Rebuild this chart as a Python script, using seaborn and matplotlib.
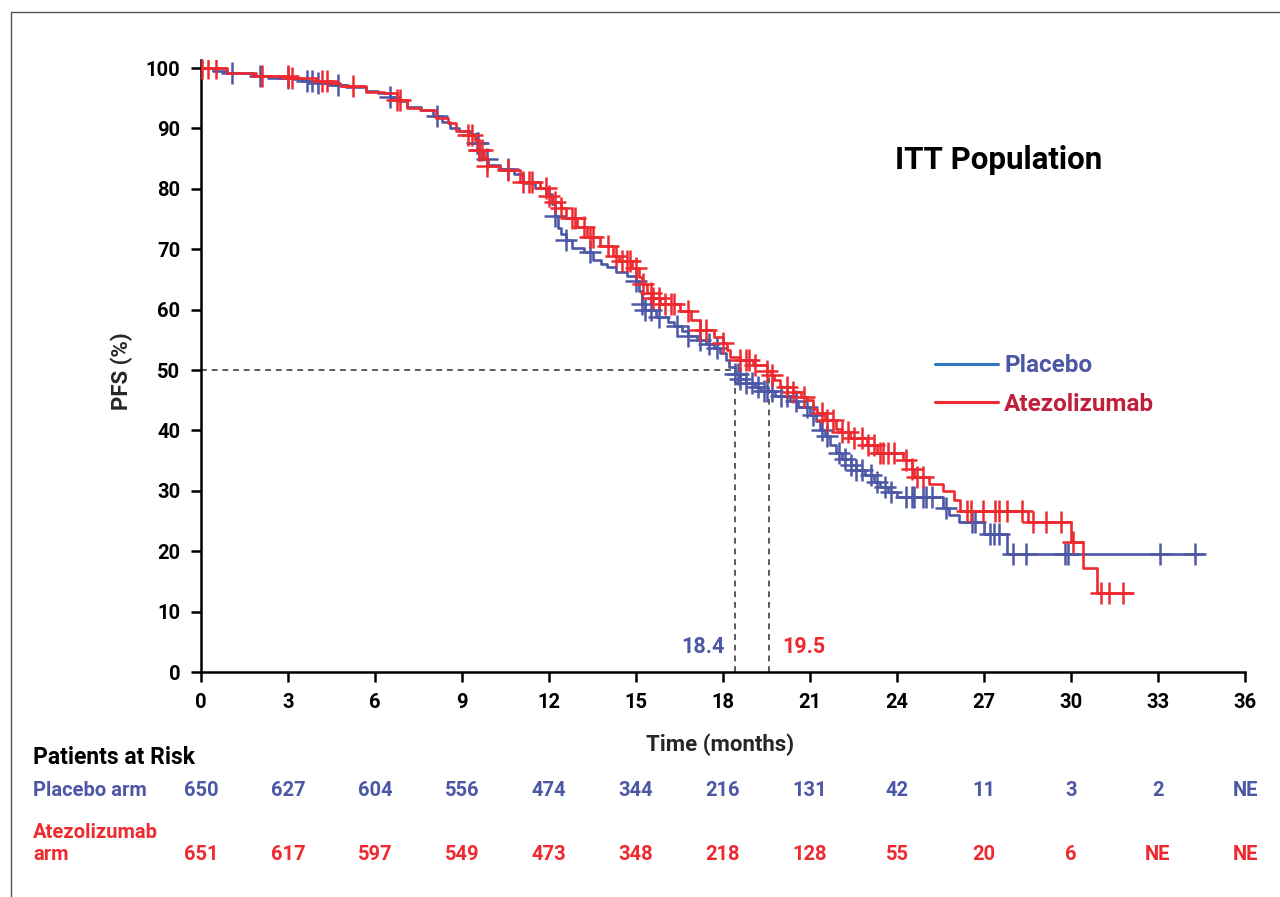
import numpy as np
import pandas as pd
import matplotlib
matplotlib.use("Agg")
import matplotlib.pyplot as plt
import matplotlib.transforms as mtransforms
from matplotlib.lines import Line2D
import seaborn as sns

# ---------------- data ----------------
placebo_t = [0, 0.4, 0.9, 1.8, 2.3, 3.2, 3.6, 4.0, 4.5, 5.0, 5.7, 6.1, 6.5, 6.8, 7.1, 7.6, 8.0, 8.3, 8.6, 8.9,
             9.3, 9.5, 9.6, 9.7, 9.9, 10.3, 10.8, 11.1, 11.5, 11.9, 12.1, 12.2, 12.3, 12.4, 12.6, 12.8, 13.2,
             13.5, 13.8, 14.0, 14.3, 14.7, 15.0, 15.1, 15.2, 15.3, 15.7, 16.1, 16.3, 16.6, 16.8, 17.1, 17.4,
             17.7, 17.9, 18.1, 18.2, 18.4, 18.6, 18.8, 19.1, 19.3, 19.8, 20.3, 20.6, 21.0, 21.2, 21.35, 21.5,
             21.7, 21.9, 22.1, 22.4, 22.6, 22.9, 23.2, 23.4, 23.7, 24.0, 25.6, 25.8, 26.15, 27.0, 27.8, 34.55]
placebo_s = [100, 99.5, 99.2, 98.6, 98.3, 98.1, 97.9, 97.5, 97.2, 96.9, 96.2, 95.8, 95.2, 94.5, 93.5, 93.0,
             92.0, 91.0, 90.0, 89.5, 89.0, 87.5, 86.5, 85.0, 84.0, 83.2, 82.5, 81.0, 80.2, 79.2, 77.5, 75.5,
             73.5, 72.5, 71.5, 70.2, 69.5, 68.2, 67.6, 67.0, 66.3, 65.6, 64.8, 63.0, 61.0, 59.9, 58.8, 58.0,
             57.3, 56.5, 55.7, 55.0, 54.3, 53.6, 52.8, 51.7, 50.5, 49.3, 48.5, 47.8, 47.2, 46.6, 45.7, 44.8,
             43.8, 42.5, 41.5, 40.0, 39.0, 37.5, 36.2, 35.2, 34.2, 33.4, 32.6, 31.5, 30.6, 29.8, 28.9, 27.2,
             26.0, 24.8, 22.8, 19.5, 19.5]

atezo_t = [0, 0.9, 1.9, 3.05, 4.0, 4.45, 4.8, 5.7, 6.3, 6.75, 7.1, 7.55, 8.1, 8.5, 8.8, 9.2, 9.45, 9.55,
           9.75, 9.85, 10.3, 11.0, 11.7, 12.0, 12.1, 12.4, 12.6, 12.95, 13.3, 13.76, 14.2, 14.4, 14.85, 15.1,
           15.2, 15.37, 15.55, 15.83, 16.5, 16.9, 17.2, 17.7, 18.0, 18.15, 18.25, 18.6, 19.05, 19.5, 19.65,
           19.75, 19.97, 20.4, 20.7, 20.9, 21.1, 21.25, 21.5, 21.9, 22.1, 22.38, 22.95, 23.3, 24.2, 24.5,
           24.6, 25.1, 25.6, 25.95, 26.17, 28.5, 30.0, 30.4, 30.9, 32.1]
atezo_s = [100, 99.2, 98.6, 98.3, 97.8, 97.5, 97.0, 96.1, 95.8, 94.7, 93.3, 93.0, 91.7, 90.9, 89.5, 88.9,
           88.0, 86.5, 85.0, 83.8, 83.1, 81.2, 80.1, 78.8, 77.8, 76.8, 75.2, 73.7, 72.1, 70.6, 68.8, 68.0,
           66.9, 65.4, 64.2, 62.7, 62.0, 61.0, 59.7, 58.3, 56.6, 55.5, 54.4, 53.3, 52.2, 51.7, 50.8, 49.9,
           49.2, 48.3, 47.2, 46.4, 45.5, 45.0, 43.6, 42.8, 41.7, 40.3, 39.8, 38.7, 37.6, 36.2, 35.1, 33.6,
           32.3, 31.2, 29.9, 28.5, 26.7, 24.9, 21.6, 17.3, 13.0, 13.0]

placebo_cens = [1.06, 2.03, 3.0, 3.64, 3.82, 4.05, 4.74, 6.52, 8.13, 9.5, 9.55, 9.6, 9.85, 10.6, 12.2, 12.6,
                13.4, 15.0, 15.2, 15.3, 15.5, 15.8, 16.4, 16.8, 17.2, 17.5, 17.8, 18.4, 18.5, 18.6, 18.8,
                19.0, 19.2, 19.4, 19.5, 19.7, 20.0, 20.2, 20.5, 20.9, 21.1, 21.4, 21.6, 22.0, 22.2, 22.4,
                22.6, 22.8, 23.1, 23.3, 23.6, 23.8, 24.3, 24.5, 24.6, 24.9, 25.0, 25.2, 25.7, 26.6, 26.7,
                27.2, 27.35, 27.5, 28.0, 28.45, 29.8, 29.9, 33.07, 34.28]
atezo_cens = [0.02, 0.25, 0.52, 2.09, 3.0, 3.13, 4.16, 4.33, 5.25, 6.75, 6.87, 9.2, 9.33, 9.6, 9.7, 9.85,
              10.6, 11.1, 11.3, 11.4, 11.9, 12.0, 12.2, 12.4, 12.8, 12.9, 13.2, 13.4, 13.5, 14.05, 14.3,
              14.5, 14.7, 14.8, 15.0, 15.25, 15.5, 15.6, 15.8, 16.0, 16.2, 16.3, 16.8, 17.2, 17.4, 18.0,
              18.6, 18.8, 18.9, 19.1, 19.5, 19.7, 20.2, 20.4, 20.8, 21.4, 21.6, 21.8, 22.1, 22.3, 22.5,
              22.8, 23.0, 23.2, 23.4, 23.5, 23.7, 23.9, 24.3, 24.5, 24.7, 24.9, 26.4, 26.54, 26.95, 27.38,
              27.52, 27.78, 28.3, 28.7, 29.14, 29.65, 30.07, 31.02, 31.3, 31.8]

median_pos = [18.4, 19.6]
median_labels = ["18.4", "19.5"]

risk_times = [0, 3, 6, 9, 12, 15, 18, 21, 24, 27, 30, 33, 36]
placebo_risk = ["650", "627", "604", "556", "474", "344", "216", "131", "42", "11", "3", "2", "NE"]
atezo_risk = ["651", "617", "597", "549", "473", "348", "218", "128", "55", "20", "6", "NE", "NE"]

xticks = list(range(0, 37, 3))
yticks = list(range(0, 101, 10))

# ---------------- style ----------------
sns.set_style("ticks")
plt.rcParams["font.family"] = ["Roboto", "DejaVu Sans"]

BLUE = "#4c58a6"
RED = "#ee2a30"
LEG_BLUE = "#2f78bf"
LEG_RED_TXT = "#c01f3a"
DASH = "#5a5a5a"

W, H = 1280, 897
fig = plt.figure(figsize=(W / 100, H / 100), dpi=100)
ax_l, ax_r, ax_b, ax_t = 201, 1245, 672, 60
ax = fig.add_axes([ax_l / W, 1 - ax_b / H, (ax_r - ax_l) / W, (ax_b - ax_t) / H])

def step_value(ts, ss, c):
    idx = np.searchsorted(np.asarray(ts), np.asarray(c), side="right") - 1
    return np.asarray(ss)[idx]

df_p = pd.DataFrame({"t": placebo_t, "s": placebo_s})
df_a = pd.DataFrame({"t": atezo_t, "s": atezo_s})
cp = pd.DataFrame({"t": placebo_cens, "s": step_value(placebo_t, placebo_s, placebo_cens)})
ca = pd.DataFrame({"t": atezo_cens, "s": step_value(atezo_t, atezo_s, atezo_cens)})

# dashed median guides
for m in median_pos:
    ax.plot([m, m], [0, 50], color=DASH, lw=1.4, ls=(0, (3, 2.5)), zorder=1)
ax.plot([0, median_pos[0]], [50, 50], color=DASH, lw=1.4, ls=(0, (3, 2.5)), zorder=1)

sns.lineplot(data=df_p, x="t", y="s", ax=ax, color=BLUE, lw=1.9, drawstyle="steps-post",
             estimator=None, sort=False, zorder=3)
sns.scatterplot(data=cp, x="t", y="s", ax=ax, marker="+", s=270, color=BLUE, linewidth=1.8, zorder=3)
sns.lineplot(data=df_a, x="t", y="s", ax=ax, color=RED, lw=1.9, drawstyle="steps-post",
             estimator=None, sort=False, zorder=4)
sns.scatterplot(data=ca, x="t", y="s", ax=ax, marker="+", s=270, color=RED, linewidth=1.8, zorder=4)

ax.set_xlim(0, 36)
ax.set_ylim(0, (ax_b - ax_t) / 6.04)
ax.set_xticks(xticks)
ax.set_yticks(yticks)
ax.tick_params(axis="both", which="major", length=7, width=1.8, direction="out", pad=8,
               labelsize=14.5, colors="black")
for lab in ax.get_xticklabels() + ax.get_yticklabels():
    lab.set_fontweight("bold")
sns.despine(ax=ax)
for sp in ["left", "bottom"]:
    ax.spines[sp].set_linewidth(1.8)
    ax.spines[sp].set_color("black")

ax.set_xlabel("Time (months)", fontsize=16, fontweight="bold")
ax.set_ylabel("PFS (%)", fontsize=16, fontweight="bold")
axw, axh = ax_r - ax_l, ax_b - ax_t
ax.xaxis.set_label_coords((720 - ax_l) / axw, (ax_b - 733) / axh)
ax.yaxis.set_label_coords((133 - ax_l) / axw, (ax_b - 371) / axh)

# title
ax.text((895 - ax_l) / axw, (ax_b - 160) / axh, "ITT Population", transform=ax.transAxes,
        fontsize=22.5, fontweight="bold", ha="left", va="center", color="black")

# median labels
ax.text(18.05, 4.1, median_labels[0], color=BLUE, fontsize=15.5, fontweight="bold", ha="right", va="center")
ax.text(20.05, 4.1, median_labels[1], color=RED, fontsize=15.5, fontweight="bold", ha="left", va="center")

# legend
handles = [Line2D([], [], color=LEG_BLUE, lw=2.2), Line2D([], [], color=RED, lw=2.2)]
leg = ax.legend(handles, ["Placebo", "Atezolizumab"], loc="center left",
                bbox_to_anchor=((935 - ax_l) / axw, (ax_b - 385) / axh), frameon=False,
                borderpad=0, borderaxespad=0, handlelength=2.6, handletextpad=0.25,
                labelspacing=0.62, prop={"size": 17.5, "weight": "bold"},
                labelcolor=[BLUE, LEG_RED_TXT])

# at-risk table
blend = mtransforms.blended_transform_factory(ax.transData, fig.transFigure)
fig.text(33 / W, 1 - 757 / H, "Patients at Risk", fontsize=16.5, fontweight="bold", color="black",
         ha="left", va="center")
fig.text(33 / W, 1 - 790 / H, "Placebo arm", fontsize=14.5, fontweight="bold", color=BLUE,
         ha="left", va="center")
fig.text(33 / W, 1 - 832 / H, "Atezolizumab", fontsize=14.5, fontweight="bold", color=RED,
         ha="left", va="center")
fig.text(33 / W, 1 - 854 / H, "arm", fontsize=14.5, fontweight="bold", color=RED,
         ha="left", va="center")
for xt, v in zip(risk_times, placebo_risk):
    fig.text(xt, 1 - 790 / H, v, transform=blend, fontsize=14.5, fontweight="bold", color=BLUE,
             ha="center", va="center")
for xt, v in zip(risk_times, atezo_risk):
    fig.text(xt, 1 - 854 / H, v, transform=blend, fontsize=14.5, fontweight="bold", color=RED,
             ha="center", va="center")

# outer frame
fig.add_artist(Line2D([10.5 / W, 10.5 / W], [0, 1 - 12 / H], transform=fig.transFigure,
                      color="#555555", lw=1.0))
fig.add_artist(Line2D([10.5 / W, 1], [1 - 12 / H, 1 - 12 / H], transform=fig.transFigure,
                      color="#555555", lw=1.0))

fig.savefig("out.png", dpi=100)
